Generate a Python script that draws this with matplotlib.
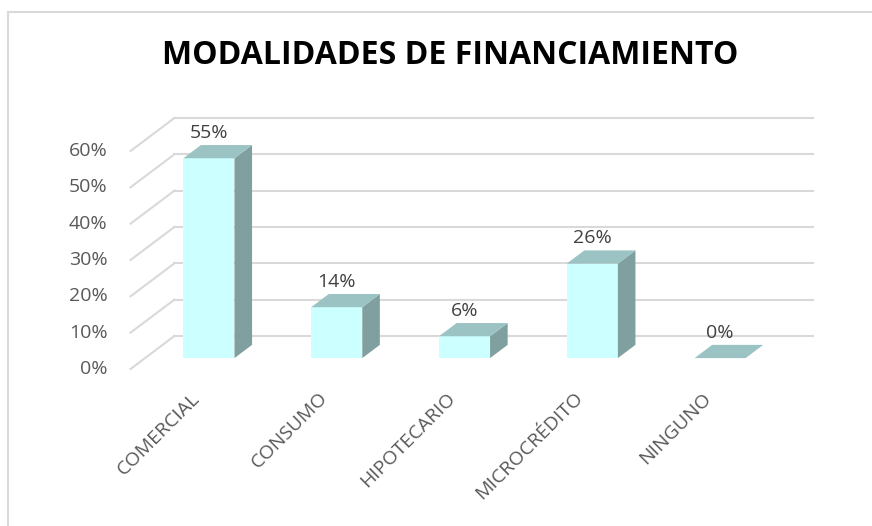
import numpy as np
import matplotlib
matplotlib.use('Agg')
import matplotlib.pyplot as plt
from matplotlib.patches import Polygon, Rectangle

# data
categories = ['COMERCIAL', 'CONSUMO', 'HIPOTECARIO', 'MICROCRÉDITO', 'NINGUNO']
values = [55, 14, 6, 26, 0]
yticks = [0, 10, 20, 30, 40, 50, 60]

# CONFIG (pseudo 3D look, like the excel chart)
PX_X = 127.8      # pixels per category
PX_Y = 3.633      # pixels per percent
ORIGIN = (130.5, 369)   # front-left floor corner, pixels
DEPTH_X = 0.344   # depth vector, data units
DEPTH_Y = 9.1
BAR_W = 0.4
Z0, Z1 = 0.33, 0.73
FRONT = '#CCFFFF'
TOP = '#9CC3C3'
SIDE = '#80A0A0'
GRID = '#D9D9D9'
TXT = '#595959'
# END CONFIG

plt.rcParams['font.family'] = ['Open Sans', 'DejaVu Sans']

fig = plt.figure(figsize=(8.72, 5.26), dpi=100)
ax = fig.add_axes([0, 0, 1, 1])
ax.set_xlim(-ORIGIN[0] / PX_X, (872 - ORIGIN[0]) / PX_X)
ax.set_ylim(-(526 - ORIGIN[1]) / PX_Y, ORIGIN[1] / PX_Y)
ax.axis('off')

# chart border (only top and left show)
fig.patches.append(Rectangle((8 / 872, -0.1), 1.2, 1.1 - 12 / 526, transform=fig.transFigure,
                             fill=False, edgecolor=GRID, lw=1.5))

ncat = len(categories)

# gridlines: side wall diagonals + back wall
for t in yticks:
    ax.plot([0, DEPTH_X], [t, t + DEPTH_Y], color=GRID, lw=1.5, zorder=1)
    ax.plot([DEPTH_X, ncat + DEPTH_X], [t + DEPTH_Y, t + DEPTH_Y], color=GRID, lw=1.5, zorder=1)
    ax.text(-0.18, t, '{}%'.format(t), ha='right', va='center', fontsize=14, color=TXT)

dz = Z1 - Z0
for i, v in enumerate(values):
    xl = i + 0.5 - BAR_W / 2 + Z0 * DEPTH_X
    yb = Z0 * DEPTH_Y
    xr = xl + BAR_W
    ddx, ddy = dz * DEPTH_X, dz * DEPTH_Y
    ax.add_patch(Rectangle((xl, yb), BAR_W, v, facecolor=FRONT, edgecolor='none', zorder=3))
    ax.add_patch(Polygon([(xr, yb), (xr + ddx, yb + ddy), (xr + ddx, yb + ddy + v), (xr, yb + v)],
                         facecolor=SIDE, edgecolor='none', zorder=3))
    ax.add_patch(Polygon([(xl, yb + v), (xr, yb + v), (xr + ddx, yb + v + ddy), (xl + ddx, yb + v + ddy)],
                         facecolor=TOP, edgecolor='none', zorder=3))
    ax.text(xl + BAR_W / 2, yb + v + ddy + 3.4, '{}%'.format(v), ha='center', va='center',
            fontsize=14, color='#404040', zorder=4)

# category labels
for i, c in enumerate(categories):
    ax.text(i + 0.47, -5.5, c, rotation=45, rotation_mode='anchor', ha='right', va='top',
            fontsize=14, color=TXT)

fig.text(450 / 872, 1 - 56 / 526, 'MODALIDADES DE FINANCIAMIENTO', ha='center', va='center',
         fontsize=23, fontweight='bold', color='black')

fig.savefig('out.png', dpi=100)
